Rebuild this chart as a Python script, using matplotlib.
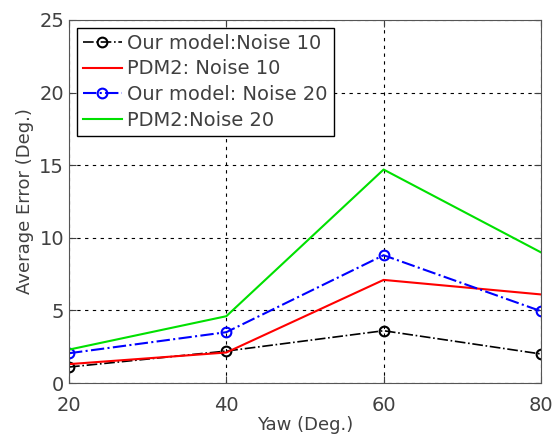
import matplotlib
matplotlib.use("Agg")
import matplotlib.pyplot as plt

# data
yaw = [20, 40, 60, 80]
ours_n10 = [1.1, 2.2, 3.6, 2.0]
pdm2_n10 = [1.3, 2.1, 7.1, 6.1]
ours_n20 = [2.05, 3.5, 8.8, 4.95]
pdm2_n20 = [2.3, 4.6, 14.7, 9.0]

xticks = [20, 40, 60, 80]
yticks = [0, 5, 10, 15, 20, 25]

plt.rcParams['font.family'] = ['DejaVu Sans']
txt = '#404040'

fig = plt.figure(figsize=(5.57, 4.34), dpi=100)
ax = fig.add_axes([0.124, 0.1175, 0.847, 0.8365])

ax.plot(yaw, ours_n10, color='black', linestyle='-.', marker='o', markersize=7,
        markerfacecolor='none', markeredgewidth=1.5, linewidth=1.2, label='Our model:Noise 10')
ax.plot(yaw, pdm2_n10, color='red', linestyle='-', linewidth=1.5, label='PDM2: Noise 10')
ax.plot(yaw, ours_n20, color='blue', linestyle='-.', marker='o', markersize=7,
        markerfacecolor='none', markeredgewidth=1.5, linewidth=1.5, label='Our model: Noise 20')
ax.plot(yaw, pdm2_n20, color='#00e000', linestyle='-', linewidth=1.5, label='PDM2:Noise 20')

ax.set_xlim(20, 80)
ax.set_ylim(0, 25)
ax.set_xticks(xticks)
ax.set_yticks(yticks)
ax.grid(True, color='black', linestyle=(0, (3, 4)), linewidth=0.8)
ax.tick_params(direction='in', top=True, right=True, labelsize=14, colors=txt, length=5)
ax.tick_params(axis='x', pad=9)
for s in ax.spines.values():
    s.set_color('#555555')

ax.set_xlabel('Yaw (Deg.)', fontsize=13, color=txt, labelpad=1)
ax.set_ylabel('Average Error (Deg.)', fontsize=13, color=txt, labelpad=4)

leg = ax.legend(loc='upper left', fontsize=14, fancybox=False, framealpha=1,
                edgecolor='black', handlelength=2.0, borderaxespad=0.4,
                labelspacing=0.35, handletextpad=0.3, borderpad=0.3)
for t in leg.get_texts():
    t.set_color(txt)

fig.savefig('out.png', dpi=100)
